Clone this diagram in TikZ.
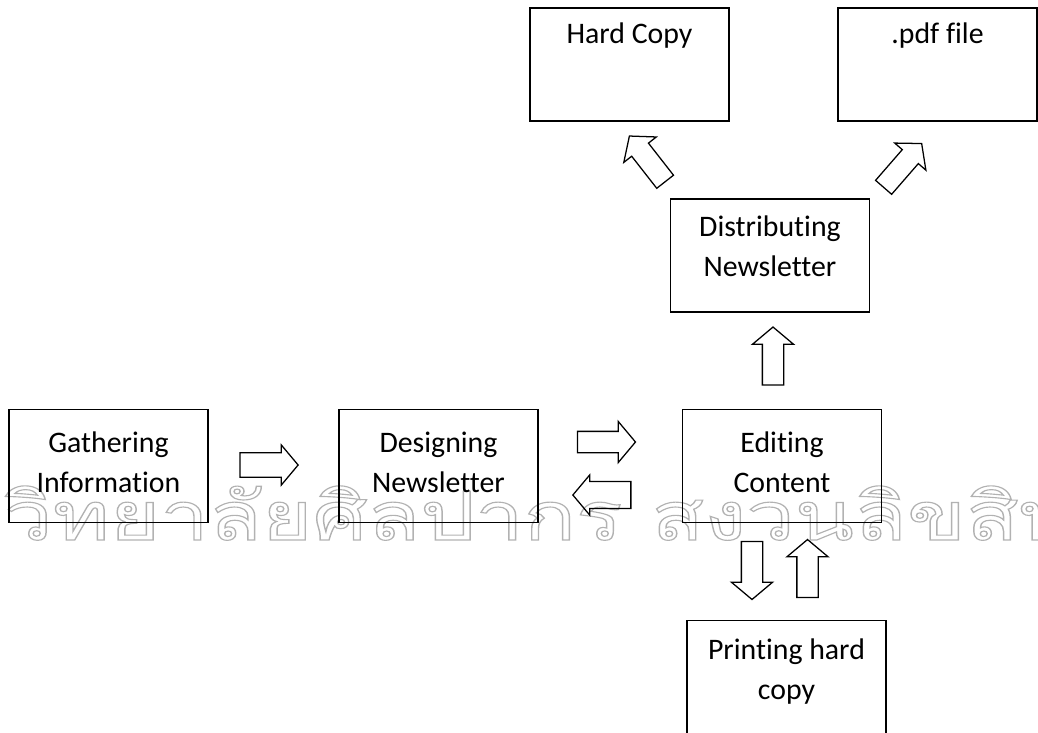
\documentclass[tikz,border=0pt]{standalone}
\usepackage{graphicx}
\usepackage{fontspec}
\setmainfont{Carlito}[Ligatures={NoCommon}]
\newfontfamily\thaifont[Script=Thai]{Loma}
\usetikzlibrary{shapes.arrows}

\begin{document}
\begin{tikzpicture}[x=0.025cm,y=-0.025cm,
        box/.style={draw,rectangle,line width=1.1pt,minimum width=4.975cm,minimum height=2.825cm,
            align=center,text depth=6pt,font=\fontsize{21.2}{28.4}\selectfont},
        blockarrow/.style={draw,single arrow,line width=0.9pt,minimum height=1.45cm,minimum width=1cm,
            inner sep=0.25cm,single arrow head extend=0.25cm,single arrow tip angle=100}]
    \clip (0,0) rectangle (1038,732);
    % watermark
    \node (mark) [anchor=base west,inner sep=0,text=black!30,
        font=\thaifont\fontsize{48}{48}\selectfont] at (4,540)
        {\scalebox{1.28}[1]{\special{pdf:literal direct 1 Tr 0.8 w}\llap{มหา}วิทยาลัยศิลปากร สงวนลิขสิทธิ์\special{pdf:literal direct 0 Tr}}};

    \node (gather) [box] at (108.5,466) {Gathering \\ Information};
    \node (design) [box] at (438.5,466) {Designing \\ Newsletter};
    \node (edit) [box] at (782,466) {Editing \\ Content};
    \node (distrib) [box,text depth=13pt] at (770,255.5) {Distributing \\ Newsletter};
    \node (hard) [box,text depth=15.7pt] at (629.5,64.5) {Hard Copy \\ \strut};
    \node (pdf) [box,text depth=15.7pt] at (937.5,64.5) {.pdf file \\ \strut};
    \node (print) [box,text depth=11.7pt] at (786.5,677) {Printing hard \\ copy};

    \node (a1) [blockarrow,single arrow head extend=0.17cm] at (264,465) {};
    \node (a2) [blockarrow] at (602,442) {};
    \node (a3) [blockarrow,rotate=180,single arrow head extend=0.13cm] at (607.5,495) {};
    \node (a4) [blockarrow,rotate=90] at (773,360.5) {};
    \node (a5) [blockarrow,rotate=-90] at (752,566) {};
    \node (a6) [blockarrow,rotate=90] at (807.5,573) {};
    \node (a7) [blockarrow,rotate=128] at (650,162.4) {};
    \node (a8) [blockarrow,rotate=49] at (899.7,168.8) {};
\end{tikzpicture}
\end{document}
